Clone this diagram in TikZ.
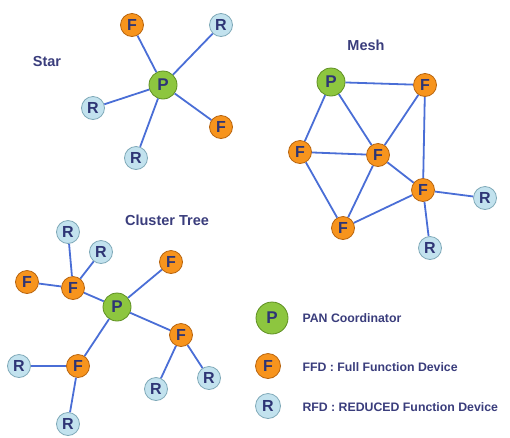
\documentclass[tikz,border=0pt]{standalone}
\usepackage{fontspec}
\setmainfont{Liberation Sans}
\begin{document}
\begin{tikzpicture}[x=1pt,y=-1pt,
  link/.style={draw=linkblue,line width=1.8pt},
  pnode/.style={circle,fill=pgreen,draw=pgreenD,line width=0.8pt,minimum size=28pt,inner sep=0pt,font=\fontsize{17}{17}\selectfont\bfseries,text=lettercol},
  fnode/.style={circle,fill=forange,draw=forangeD,line width=0.8pt,minimum size=23pt,inner sep=0pt,font=\fontsize{16}{16}\selectfont\bfseries,text=lettercol},
  rnode/.style={circle,fill=rblue,draw=rblueD,line width=0.8pt,minimum size=23pt,inner sep=0pt,font=\fontsize{16}{16}\selectfont\bfseries,text=lettercol},
  title/.style={font=\fontsize{14.5}{15}\selectfont\bfseries,text=titlecol},
  legtext/.style={anchor=west,font=\fontsize{12.3}{13}\selectfont\bfseries,text=titlecol}]
\definecolor{linkblue}{HTML}{4A6ED6}
\definecolor{pgreen}{HTML}{8DC63F}
\definecolor{pgreenD}{HTML}{5E8F22}
\definecolor{forange}{HTML}{F7941D}
\definecolor{forangeD}{HTML}{B8640E}
\definecolor{rblue}{HTML}{C2E2EE}
\definecolor{rblueD}{HTML}{7FA9B8}
\definecolor{lettercol}{HTML}{2E3575}
\definecolor{titlecol}{HTML}{3A3D7C}
\useasboundingbox (0,0) rectangle (510,437);
% ---------- Star ----------
\node[title] (tstar) at (47,62) {Star};
\node[pnode] (sP) at (163,85) {P};
\node[fnode] (sF1) at (132,25) {F};
\node[rnode] (sR1) at (221,25) {R};
\node[rnode] (sR2) at (93,108) {R};
\node[fnode] (sF2) at (221,127) {F};
\node[rnode] (sR3) at (136,158) {R};
% ---------- Mesh ----------
\node[title] (tmesh) at (366,45) {Mesh};
\node[pnode] (mP) at (331,82) {P};
\node[fnode] (mF1) at (425,85) {F};
\node[fnode] (mF2) at (300,152) {F};
\node[fnode] (mF3) at (378,155) {F};
\node[fnode] (mF4) at (423,190) {F};
\node[fnode] (mF5) at (343,228) {F};
\node[rnode] (mR1) at (485,198) {R};
\node[rnode] (mR2) at (430,248) {R};
% ---------- Cluster tree ----------
\node[title] (tclus) at (167,220) {Cluster Tree};
\node[pnode] (cP) at (117,307) {P};
\node[fnode] (cF1) at (73,288) {F};
\node[fnode] (cF0) at (27,282) {F};
\node[rnode] (cR1) at (68,232) {R};
\node[rnode] (cR2) at (101,252) {R};
\node[fnode] (cF2) at (171,262) {F};
\node[fnode] (cF3) at (181,335) {F};
\node[rnode] (cR3) at (156,389) {R};
\node[rnode] (cR4) at (209,378) {R};
\node[fnode] (cF4) at (78,366) {F};
\node[rnode] (cR5) at (19,366) {R};
\node[rnode] (cR6) at (68,424) {R};
% ---------- Legend ----------
\node[pnode,minimum size=32pt] (lP) at (272,318) {P};
\node[fnode,minimum size=25pt] (lF) at (268,366) {F};
\node[rnode,minimum size=25pt] (lR) at (268,406) {R};
\node[legtext] (lPt) at (299,318) {PAN Coordinator};
\node[legtext] (lFt) at (299,367) {FFD : Full Function Device};
\node[legtext] (lRt) at (299,407) {RFD : REDUCED Function Device};
% ---------- Links ----------
\foreach \a/\b in {sP/sF1,sP/sR1,sP/sR2,sP/sF2,sP/sR3,
  mP/mF1,mP/mF2,mP/mF3,mF1/mF3,mF1/mF4,mF2/mF3,mF2/mF5,mF3/mF5,mF3/mF4,mF5/mF4,mF4/mR1,mF4/mR2,
  cP/cF1,cF1/cF0,cF1/cR1,cF1/cR2,cP/cF2,cP/cF3,cF3/cR3,cF3/cR4,cP/cF4,cF4/cR5,cF4/cR6}
  \draw[link] (\a) -- (\b);
\end{tikzpicture}
\end{document}
